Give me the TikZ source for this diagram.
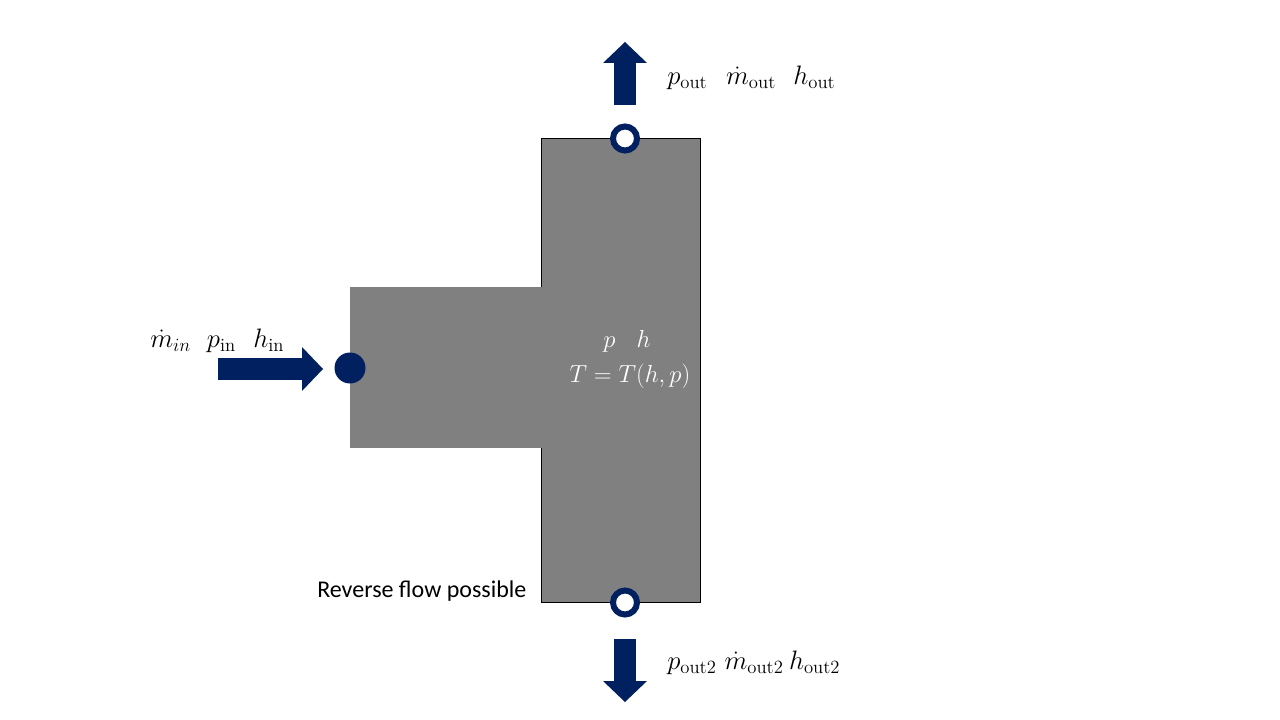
\documentclass[tikz,border=0pt]{standalone}
\usepackage{fix-cm}
\usepackage{fontspec}
\newfontfamily\slidefont{Carlito}
\usetikzlibrary{arrows.meta}
\definecolor{navy}{HTML}{002060}
\definecolor{bodygray}{HTML}{808080}
\begin{document}
\begin{tikzpicture}[x=0.75pt,y=-0.75pt,
  flow/.style={navy,line width=16.5pt,
    -{Triangle[length=15.75pt,width=33pt,line width=0pt]}},
  port/.style={circle,draw=navy,line width=4.5pt,fill=white,
    minimum size=18pt,inner sep=0pt},
  inport/.style={circle,fill=navy,minimum size=23.25pt,inner sep=0pt},
  lbl/.style={anchor=base west,inner sep=0pt,font=\fontsize{20}{24}\selectfont},
  statelbl/.style={anchor=base west,inner sep=0pt,white,
    font=\fontsize{18.5}{22}\selectfont}]
\useasboundingbox (0,0) rectangle (1280,720);
% volume
\node[draw=black,fill=bodygray,line width=0.75pt,minimum width=119.25pt,
  minimum height=347.25pt,inner sep=0pt] (tank) at (620.5,370.5) {};
\fill[bodygray] (350,287) rectangle (541.5,448);
\coordinate (branch) at (350,368);
% flows
\coordinate (inTail) at (218,369);
\coordinate (inTip) at (323,369);
\coordinate (outTail) at (625,105);
\coordinate (outTip) at (625,42);
\coordinate (out2Tail) at (625,639);
\coordinate (out2Tip) at (625,702);
% ports
\node[inport] (in) at (branch) {};
\node[port] (out) at (tank.north -| outTail) {};
\node[port] (out2) at (tank.south -| out2Tail) {};
\draw[flow] (inTail) -- (inTip);
\draw[flow] (outTail) -- (outTip);
\draw[flow] (out2Tail) -- (out2Tip);
% labels
\node[lbl] (inLbl) at (150,347)
  {$\dot{m}_{in}\hspace{12pt}p_{\mathrm{in}}\hspace{13pt}h_{\mathrm{in}}$};
\node[lbl] (outLbl) at (667,85)
  {$p_{\mathrm{out}}\hspace{14pt}\dot{m}_{\mathrm{out}}\hspace{13pt}h_{\mathrm{out}}$};
\node[lbl] (out2Lbl) at (667,669)
  {$p_{\mathrm{out2}}\hspace{6pt}\dot{m}_{\mathrm{out2}}\hspace{4pt}h_{\mathrm{out2}}$};
\node[statelbl] (stateLbl) at (603,347) {$p\hspace{16pt}h$};
\node[statelbl,anchor=base] (tempLbl) at (630,382) {$T=T(h,p)$};
\node[anchor=base west,inner sep=0pt,font=\slidefont\fontsize{18}{22}\selectfont]
  (revLbl) at (317,597) {Reverse flow possible};
\end{tikzpicture}
\end{document}
